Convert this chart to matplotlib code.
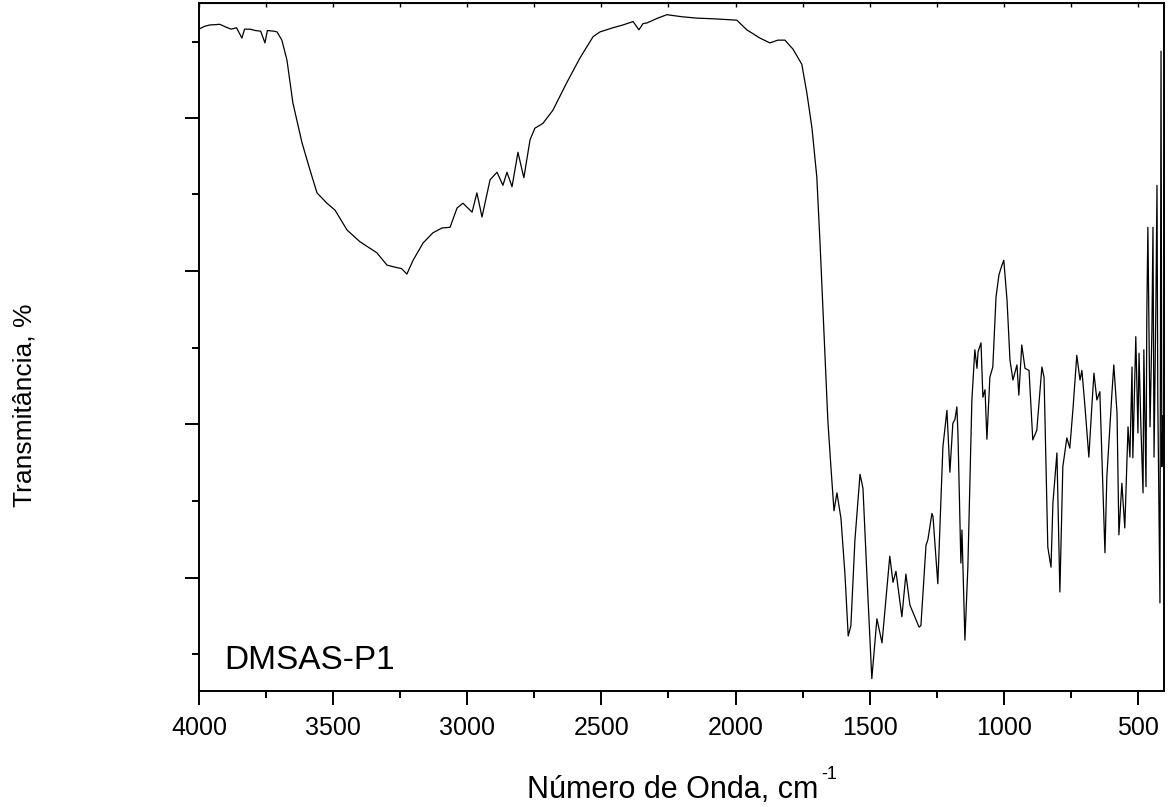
import matplotlib
matplotlib.use("Agg")
import matplotlib.pyplot as plt
from matplotlib.ticker import FixedLocator
from matplotlib.transforms import offset_copy

plt.rcParams["font.family"] = ["Liberation Sans", "DejaVu Sans"]

# IR spectrum (wavenumber in cm-1, transmittance in %)
wavenumber = [
    4000, 3980, 3960, 3922, 3900, 3880, 3860, 3840, 3830, 3810, 3790, 3770, 3754, 3745,
    3720, 3709, 3691, 3672, 3650, 3616, 3586, 3560, 3523, 3493, 3448, 3400, 3337, 3299,
    3269, 3245, 3225, 3202, 3165, 3128, 3094, 3064, 3038, 3016, 2982, 2964, 2945, 2915,
    2889, 2867, 2852, 2833, 2811, 2789, 2766, 2748, 2718, 2681, 2628, 2580, 2531, 2505,
    2457, 2420, 2382, 2360, 2345, 2330, 2290, 2256, 2200, 2144, 2080, 2040, 1995, 1958,
    1909, 1872, 1842, 1816, 1786, 1753, 1734, 1715, 1697, 1685, 1674, 1663, 1656, 1644,
    1633, 1622, 1607, 1592, 1580, 1570, 1555, 1536, 1525, 1510, 1492, 1473, 1454, 1425,
    1413, 1402, 1380, 1365, 1350, 1316, 1309, 1290, 1283, 1268, 1264, 1246, 1227, 1212,
    1201, 1190, 1182, 1175, 1171, 1160, 1156, 1145, 1134, 1119, 1108, 1100, 1096, 1085,
    1078, 1070, 1063, 1052, 1041, 1029, 1018, 1007, 1000, 988, 977, 966, 951, 944,
    933, 921, 906, 892, 877, 858, 850, 836, 824, 817, 802, 791, 780, 765,
    754, 742, 728, 716, 709, 698, 683, 672, 664, 653, 642, 623, 616, 597,
    590, 578, 571, 560, 549, 537, 530, 522, 519, 508, 500, 496, 489, 481,
    478, 470, 467, 463, 455, 448, 444, 440, 433, 429, 426, 418, 414, 411, 407,
]
transmittance = [
    96.2, 96.6, 96.8, 96.9, 96.5, 96.2, 96.4, 94.9, 96.2, 96.2, 96.0, 95.9, 94.2, 96.0,
    95.9, 95.8, 94.6, 91.7, 85.5, 79.7, 75.7, 72.4, 70.9, 69.9, 67.0, 65.3, 63.7, 61.9,
    61.6, 61.4, 60.6, 62.6, 65.1, 66.6, 67.3, 67.4, 70.2, 70.9, 69.6, 72.4, 68.9, 74.3,
    75.4, 73.5, 75.4, 73.3, 78.3, 74.6, 80.1, 81.8, 82.5, 84.4, 88.5, 92.0, 95.1, 95.8,
    96.4, 96.8, 97.3, 96.1, 97.0, 97.1, 97.8, 98.3, 98.0, 97.8, 97.7, 97.6, 97.5, 96.1,
    94.9, 94.2, 94.6, 94.6, 93.3, 91.1, 86.9, 81.8, 74.7, 65.1, 55.4, 45.8, 39.4, 32.3,
    26.2, 28.8, 25.1, 16.9, 8.0, 9.5, 21.9, 31.5, 29.5, 16.6, 1.8, 10.5, 7.0, 19.6,
    15.8, 17.4, 10.8, 17.0, 12.5, 9.3, 9.5, 21.2, 22.0, 25.8, 25.4, 15.6, 35.5, 40.8,
    31.8, 38.9, 39.5, 41.3, 37.5, 18.6, 23.4, 7.4, 18.0, 42.3, 49.6, 46.9, 49.3, 50.6,
    42.7, 43.8, 36.6, 45.6, 47.1, 57.3, 60.5, 61.9, 62.6, 56.8, 48.1, 45.2, 47.4, 43.0,
    50.3, 46.9, 46.6, 36.5, 37.9, 47.1, 45.6, 20.9, 18.0, 27.3, 34.6, 14.4, 32.6, 36.8,
    35.3, 41.1, 48.8, 45.2, 46.6, 41.6, 34.0, 41.3, 46.2, 42.3, 43.5, 20.1, 31.1, 43.3,
    47.4, 40.4, 22.7, 30.2, 23.7, 38.4, 34.0, 47.1, 33.9, 51.5, 37.5, 49.1, 38.4, 28.8,
    49.6, 29.7, 54.4, 67.4, 38.4, 52.5, 67.4, 34.0, 56.8, 73.5, 42.3, 12.8, 93.0, 32.6, 40.0,
]

x_major = [4000, 3500, 3000, 2500, 2000, 1500, 1000, 500]
x_minor = [3750, 3250, 2750, 2250, 1750, 1250, 750]
y_major = [16.4, 38.8, 61.0, 83.3]
y_minor = [5.4, 27.6, 49.9, 72.2, 94.3]
sample = "DMSAS-P1"

fig = plt.figure(figsize=(11.69, 8.07), dpi=100)
ax = fig.add_axes([0.1702, 0.1437, 0.8255, 0.8526])

ax.plot(wavenumber, transmittance, color="black", lw=0.9)

ax.set_xlim(4000, 403)
ax.set_ylim(0, 100)

ax.xaxis.set_major_locator(FixedLocator(x_major))
ax.xaxis.set_minor_locator(FixedLocator(x_minor))
ax.yaxis.set_major_locator(FixedLocator(y_major))
ax.yaxis.set_minor_locator(FixedLocator(y_minor))
ax.set_yticklabels([])

for sp in ax.spines.values():
    sp.set_linewidth(1.4)

ax.tick_params(axis="x", which="major", direction="out", length=10, width=1.4,
               labelsize=18, pad=8)
ax.tick_params(axis="x", which="minor", direction="out", length=5, width=1.4)
ax.tick_params(axis="y", which="major", direction="out", length=10, width=1.4)
ax.tick_params(axis="y", which="minor", direction="out", length=5, width=1.4)

# short inward ticks along the top edge
top = ax.secondary_xaxis("top")
top.set_xticks(x_major + x_minor)
top.tick_params(direction="in", length=3, width=1.0, labeltop=False)

ax.text(3905, 4.5, sample, fontsize=24, ha="left", va="center")

xlab = fig.text(673 / 1169, 1 - 798 / 807, "Número de Onda, cm",
                fontsize=22, ha="center", va="baseline")
fig.canvas.draw()
bb = xlab.get_window_extent()
# superscript -1 sits just right of "cm", raised above the cap line
fig.text(bb.x1 + 3, bb.y0 + 22, "-1", fontsize=13, ha="left", va="bottom",
         transform=None)

fig.text(25 / 1169, 1 - 405 / 807, "Transmitância, %", fontsize=19,
         rotation=90, ha="center", va="center")

fig.savefig("out.png", dpi=100)
